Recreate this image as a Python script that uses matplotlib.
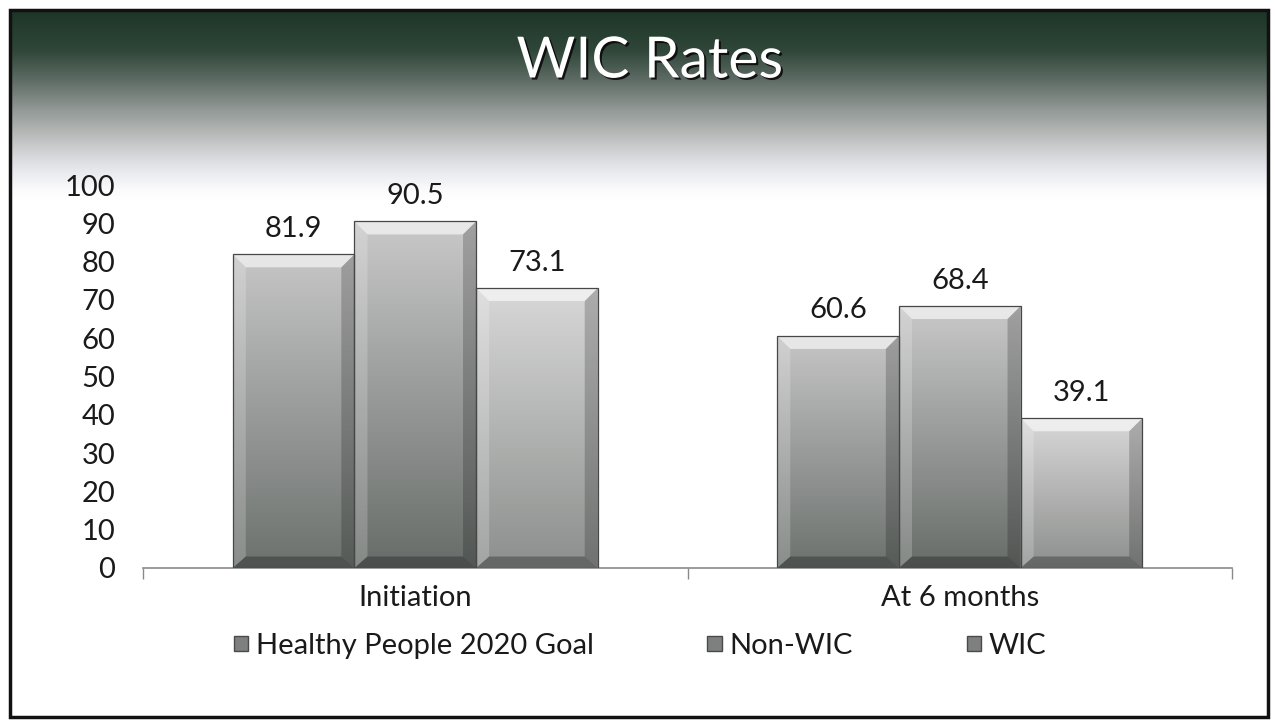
import numpy as np
import matplotlib
matplotlib.use("Agg")
import matplotlib.pyplot as plt
from matplotlib.patches import Polygon, Rectangle, Patch
from matplotlib.colors import LinearSegmentedColormap
import matplotlib.patheffects as pe

# ---- data ----
title = "WIC Rates"
categories = ["Initiation", "At 6 months"]
series_names = ["Healthy People 2020 Goal", "Non-WIC", "WIC"]
hp2020 = [81.9, 60.6]
non_wic = [90.5, 68.4]
wic = [73.1, 39.1]
yticks = [0, 10, 20, 30, 40, 50, 60, 70, 80, 90, 100]

series_values = [hp2020, non_wic, wic]
face_grads = [("#c6c6c6", "#6c716e"), ("#c9c9c9", "#676c69"), ("#d8d8d8", "#8c8f8d")]

plt.rcParams['font.family'] = ['Lato', 'DejaVu Sans']
W, H = 1275, 727
fig = plt.figure(figsize=(W / 100, H / 100), dpi=100)
fig.patch.set_facecolor("white")

# header gradient background
bg = fig.add_axes([10 / W, 1 - 200 / H, 1258 / W, 190 / H], zorder=0)
bg.set_axis_off()
hcmap = LinearSegmentedColormap.from_list(
    "hdr", [(0.0, "#1d3527"), (0.21, "#2f4639"), (0.37, "#5f6c65"),
            (0.53, "#949a97"), (0.68, "#bfc1c1"), (0.82, "#e3e4e8"),
            (0.95, "#fbfbfd"), (1.0, "#ffffff")])
grad = np.linspace(0, 1, 256).reshape(-1, 1)
bg.imshow(grad, aspect="auto", cmap=hcmap, extent=[0, 1, 0, 1], origin="upper")

# border
fig.add_artist(Rectangle((10 / W, 1 - 717 / H), 1258 / W, 707 / H, transform=fig.transFigure,
                         fill=False, edgecolor="#111111", linewidth=2.5, zorder=10))

# title
fig.text(650 / W, 1 - 62 / H, title, ha="center", va="center", fontsize=41, color="white",
         path_effects=[pe.withSimplePatchShadow(offset=(1.5, -1.5), shadow_rgbFace="#0a0a0a", alpha=0.9)],
         zorder=5)

# main axes
ax = fig.add_axes([143 / W, 1 - 568 / H, 1089 / W, 383 / H], zorder=2)
ax.patch.set_alpha(0)
x = np.arange(len(categories))
w = 0.2235
offsets = [-w, 0, w]

xlim = (-0.5, len(categories) - 0.5)
ylim = (0, 100)

dx = 0.024
dy_top = 3.4
dy_bot = 3.0
for si, (vals, name) in enumerate(zip(series_values, series_names)):
    bars = ax.bar(x + offsets[si], vals, width=w, color="none", edgecolor="#474747",
                  linewidth=0.9, label=name, zorder=4)
    cmap = LinearSegmentedColormap.from_list("f%d" % si, [face_grads[si][1], face_grads[si][0]])
    for b, v in zip(bars, vals):
        x0, x1 = b.get_x(), b.get_x() + b.get_width()
        im = ax.imshow(np.linspace(0, 1, 256).reshape(-1, 1), extent=[x0, x1, 0, v],
                       origin="lower", aspect="auto", cmap=cmap, zorder=3)
        im.set_clip_path(b)
        # bevels
        ax.add_patch(Polygon([(x0, v), (x1, v), (x1 - dx, v - dy_top), (x0 + dx, v - dy_top)],
                             closed=True, facecolor="white", alpha=0.6, edgecolor="none", zorder=3.5))
        ax.add_patch(Polygon([(x0, 0), (x0 + dx, dy_bot), (x0 + dx, v - dy_top), (x0, v)],
                             closed=True, facecolor="white", alpha=0.2, edgecolor="none", zorder=3.5))
        ax.add_patch(Polygon([(x1, 0), (x1, v), (x1 - dx, v - dy_top), (x1 - dx, dy_bot)],
                             closed=True, facecolor="black", alpha=0.2, edgecolor="none", zorder=3.5))
        ax.add_patch(Polygon([(x0, 0), (x1, 0), (x1 - dx, dy_bot), (x0 + dx, dy_bot)],
                             closed=True, facecolor="black", alpha=0.28, edgecolor="none", zorder=3.5))
        ax.annotate(f"{v:.1f}", (b.get_x() + b.get_width() / 2, v), xytext=(0, 9),
                    textcoords="offset points", ha="center", va="bottom", fontsize=21,
                    color="#1a1a1a", zorder=6)

ax.set_xlim(*xlim)
ax.set_ylim(*ylim)
ax.set_yticks(yticks)
ax.set_yticklabels([str(t) for t in yticks])
ax.tick_params(axis="y", length=0, pad=20, labelsize=21, labelcolor="#1a1a1a")
ax.set_xticks(x)
ax.set_xticklabels(categories)
ax.tick_params(axis="x", length=0, pad=12, labelsize=21, labelcolor="#1a1a1a")
ax.set_xticks(np.arange(len(categories) + 1) - 0.5, minor=True)
ax.tick_params(axis="x", which="minor", length=8, color="#8a8a8a", width=1)
for s in ["top", "right", "left"]:
    ax.spines[s].set_visible(False)
ax.spines["bottom"].set_color("#8a8a8a")
ax.spines["bottom"].set_linewidth(1.2)

handles = [Patch(facecolor="#7d807e", edgecolor="#4a4a4a", label=n) for n in series_names]
fig.legend(handles=handles, loc="center", bbox_to_anchor=(640 / W, 1 - 646 / H), ncol=3,
           frameon=False, fontsize=21, handlelength=0.5, handleheight=0.45,
           handletextpad=0.25, columnspacing=3.9, labelcolor="#1a1a1a")

fig.savefig("out.png", dpi=100, facecolor="white")
